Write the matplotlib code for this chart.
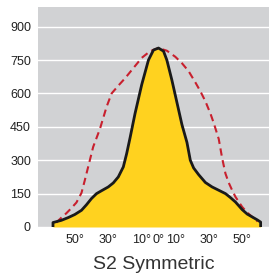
import matplotlib.pyplot as plt

# Angle (deg) vs value
black_angle = [-63, -63, -58, -54, -50, -46, -43, -40, -37, -34, -30, -27, -24, -21,
               -19, -17, -14, -10, -6, -3, 0, 3, 5, 8, 11, 14, 17, 19, 21, 24, 28,
               32, 36, 40, 43, 46, 50, 53, 56, 59, 61, 61]
black_value = [0, 20, 30, 42, 56, 75, 100, 128, 150, 163, 180, 198, 225, 270,
               330, 400, 510, 640, 750, 795, 804, 790, 750, 660, 560, 460, 380, 300, 265, 235, 200,
               180, 165, 150, 132, 112, 78, 58, 45, 32, 22, 0]

red_angle = [-61, -58, -55, -52, -49, -46, -44, -42, -39, -35, -31, -28, -24, -20,
             -15, -10, -5, 0, 5, 10, 14, 18, 22, 25, 28, 31, 33, 36, 38, 40, 42,
             44, 46, 50, 53, 56, 59]
red_value = [20, 42, 62, 85, 110, 153, 210, 270, 360, 440, 540, 600, 635, 668,
             714, 760, 790, 804, 792, 765, 736, 700, 650, 610, 565, 510, 467, 395, 310, 240, 198,
             165, 135, 90, 65, 45, 25]

tick_pos = [-50, -30, -10, 0, 10, 30, 50]
tick_lbl = ["50°", "30°", "10°", "0°", "10°", "30°", "50°"]
grid_pos = [-50, -30, -10, 10, 30, 50]
y_ticks = [0, 150, 300, 450, 600, 750, 900]

plt.rcParams['font.family'] = ['Liberation Sans', 'DejaVu Sans']

fig = plt.figure(figsize=(2.69, 2.73), dpi=100)
ax = fig.add_axes([0.141, 0.1685, 0.859, 0.8055])
ax.set_facecolor('#d1d2d4')

ax.fill_between(black_angle, black_value, 0, color='#ffd21f', lw=0, zorder=2)
ax.plot(red_angle, red_value, color='#c8202e', lw=1.5, ls=(0, (3.5, 2.2)), zorder=3)
ax.plot(black_angle, black_value, color='#1a1a1a', lw=2.0, zorder=4,
        solid_joinstyle='round')

ax.set_xlim(-72, 66)
ax.set_ylim(0, 988)
ax.set_xticks(tick_pos)
ax.set_xticklabels(tick_lbl)
ax.set_xticks(grid_pos, minor=True)
ax.set_yticks(y_ticks)

ax.grid(which='minor', axis='x', color='white', lw=1.0, zorder=1)
ax.grid(which='major', axis='y', color='white', lw=1.0, zorder=1)
ax.set_axisbelow(True)
ax.tick_params(which='both', length=0, labelsize=9, colors='#222222', pad=5)
for s in ax.spines.values():
    s.set_visible(False)

ax.set_xlabel("S2 Symmetric", fontsize=14, color='#333333', labelpad=7)

fig.savefig("out.png", dpi=100)
